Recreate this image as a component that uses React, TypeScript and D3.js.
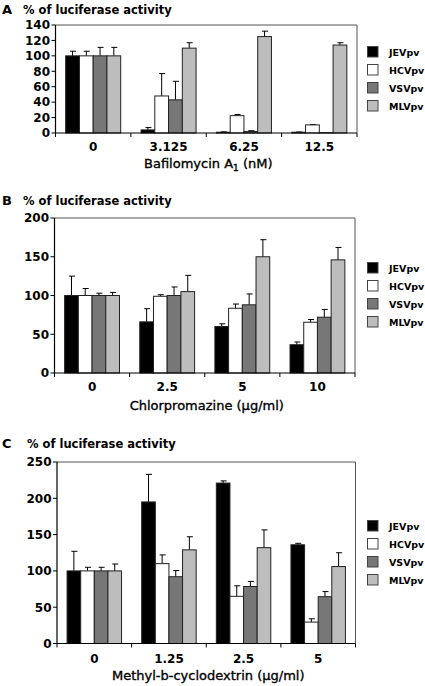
import React from "react";
import * as d3 from "d3";

// ---------- data ----------
const seriesNames = ["JEVpv", "HCVpv", "VSVpv", "MLVpv"];
const seriesColors = ["#000000", "#ffffff", "#777777", "#bdbdbd"];

// Panel A – Bafilomycin A1
const catsA = ["0", "3.125", "6.25", "12.5"];
const jevA = [100, 4, 1, 1];
const hcvA = [100, 48, 22.5, 10.5];
const vsvA = [100, 43, 2, 0.4];
const mlvA = [100, 110, 125, 114];
const jevErrA = [6, 3, 0.5, 0.3];
const hcvErrA = [6, 29, 1.5, 0.5];
const vsvErrA = [11, 24, 1, 0];
const mlvErrA = [11, 7, 7, 3];
const ticksA = [0, 20, 40, 60, 80, 100, 120, 140];

// Panel B – Chlorpromazine
const catsB = ["0", "2.5", "5", "10"];
const jevB = [100, 66, 60, 36.5];
const hcvB = [100, 99, 83.5, 65.5];
const vsvB = [100, 100, 88, 72];
const mlvB = [100, 105, 150, 146];
const jevErrB = [25, 17, 3.5, 3.5];
const hcvErrB = [9, 2, 5.5, 3.5];
const vsvErrB = [3, 11, 14, 10];
const mlvErrB = [4, 21, 22, 16];
const ticksB = [0, 50, 100, 150, 200];

// Panel C – Methyl-b-cyclodextrin
const catsC = ["0", "1.25", "2.5", "5"];
const jevC = [100, 195, 221, 136];
const hcvC = [100, 110, 65, 29.5];
const vsvC = [100, 92, 78.5, 64.5];
const mlvC = [100, 129, 132, 106];
const jevErrC = [27, 38, 3, 2];
const hcvErrC = [5, 12, 14.5, 4.5];
const vsvErrC = [5, 8.5, 7, 7];
const mlvErrC = [9.5, 18, 24.5, 19];
const ticksC = [0, 50, 100, 150, 200, 250];

const yTitle = "% of luciferase activity";

// ---------- layout ----------
const FONT = "'DejaVu Sans', Arial, sans-serif";

type Panel = {
  letter: string;
  cats: string[];
  values: number[][];
  errors: number[][];
  ticks: number[];
  xTitle: React.ReactNode;
  left: number;
  right: number;
  top: number;
  bottom: number;
  letterY: number;
  titleX: number;
  legendTop: number;
  tickLabelY: number;
  xTitleY: number;
};

const panels: Panel[] = [
  {
    letter: "A",
    cats: catsA,
    values: [jevA, hcvA, vsvA, mlvA],
    errors: [jevErrA, hcvErrA, vsvErrA, mlvErrA],
    ticks: ticksA,
    xTitle: (
      <>
        Bafilomycin A
        <tspan fontSize={9} dy={3}>1</tspan>
        <tspan dy={-3}> (nM)</tspan>
      </>
    ),
    left: 55.5,
    right: 357,
    top: 25,
    bottom: 133,
    letterY: 14,
    titleX: 23,
    legendTop: 46.5,
    tickLabelY: 151,
    xTitleY: 168,
  },
  {
    letter: "B",
    cats: catsB,
    values: [jevB, hcvB, vsvB, mlvB],
    errors: [jevErrB, hcvErrB, vsvErrB, mlvErrB],
    ticks: ticksB,
    xTitle: <>Chlorpromazine (μg/ml)</>,
    left: 54.5,
    right: 355,
    top: 218,
    bottom: 373,
    letterY: 205,
    titleX: 23,
    legendTop: 262.5,
    tickLabelY: 391,
    xTitleY: 410,
  },
  {
    letter: "C",
    cats: catsC,
    values: [jevC, hcvC, vsvC, mlvC],
    errors: [jevErrC, hcvErrC, vsvErrC, mlvErrC],
    ticks: ticksC,
    xTitle: <>Methyl-b-cyclodextrin (μg/ml)</>,
    left: 57,
    right: 355.5,
    top: 462,
    bottom: 643.5,
    letterY: 447.5,
    titleX: 27,
    legendTop: 520.5,
    tickLabelY: 663,
    xTitleY: 680,
  },
];

function PanelChart({ p }: { p: Panel }) {
  const yMax = p.ticks[p.ticks.length - 1];
  const y = d3.scaleLinear().domain([0, yMax]).range([p.bottom, p.top]);
  const x0 = d3.scaleBand<string>().domain(p.cats).range([p.left, p.right]).padding(0);
  const bw = x0.bandwidth();
  const inset = bw * 0.135;
  const x1 = d3
    .scaleBand<string>()
    .domain(seriesNames)
    .range([inset, bw - inset])
    .padding(0);
  const barW = x1.bandwidth();
  const capHalf = 2.5;
  const boundaries = [...p.cats.map((c) => x0(c) as number), p.right];

  return (
    <g>
      {/* letter + title */}
      <text x={2} y={p.letterY} fontFamily={FONT} fontWeight="bold" fontSize={13}>
        {p.letter}
      </text>
      <text x={p.titleX} y={p.letterY} fontFamily={FONT} fontWeight="bold" fontSize={11.5}>
        {yTitle}
      </text>

      {/* frame top/right */}
      <path
        d={`M${p.left},${p.top}H${p.right}V${p.bottom}`}
        fill="none"
        stroke="#555"
        strokeWidth={1}
      />

      {/* bars */}
      {p.cats.map((c, ci) =>
        seriesNames.map((s, si) => {
          const v = p.values[si][ci];
          const e = p.errors[si][ci];
          const bx = (x0(c) as number) + (x1(s) as number);
          const cx = bx + barW / 2;
          return (
            <g key={`${c}-${s}`}>
              {e > 0 && (
                <g stroke="#000" strokeWidth={1}>
                  <line x1={cx} x2={cx} y1={y(v)} y2={y(v + e)} />
                  <line x1={cx - capHalf} x2={cx + capHalf + 1} y1={y(v + e)} y2={y(v + e)} />
                </g>
              )}
              <rect
                x={bx}
                y={y(v)}
                width={barW}
                height={Math.max(0, y(0) - y(v))}
                fill={seriesColors[si]}
                stroke="#222"
                strokeWidth={1}
              />
            </g>
          );
        })
      )}

      {/* y axis */}
      <line x1={p.left} x2={p.left} y1={p.top} y2={p.bottom} stroke="#000" strokeWidth={1.2} />
      {p.ticks.map((t) => (
        <g key={t}>
          <line x1={p.left - 4} x2={p.left} y1={y(t)} y2={y(t)} stroke="#000" strokeWidth={1} />
          <text
            x={p.left - 5.5}
            y={y(t) + 4.3}
            textAnchor="end"
            fontFamily={FONT}
            fontWeight="bold"
            fontSize={12}
          >
            {t}
          </text>
        </g>
      ))}

      {/* x axis */}
      <line x1={p.left} x2={p.right} y1={p.bottom} y2={p.bottom} stroke="#000" strokeWidth={1.2} />
      {boundaries.map((bx, i) => (
        <line key={i} x1={bx} x2={bx} y1={p.bottom} y2={p.bottom + 4} stroke="#000" strokeWidth={1} />
      ))}
      {p.cats.map((c) => (
        <text
          key={c}
          x={(x0(c) as number) + bw / 2}
          y={p.tickLabelY}
          textAnchor="middle"
          fontFamily={FONT}
          fontWeight="bold"
          fontSize={12}
        >
          {c}
        </text>
      ))}
      <text
        x={(p.left + p.right) / 2 + 2}
        y={p.xTitleY}
        textAnchor="middle"
        fontFamily={FONT}
        fontSize={13}
        stroke="#000"
        strokeWidth={0.35}
      >
        {p.xTitle}
      </text>

      {/* legend */}
      {seriesNames.map((s, si) => (
        <g key={s}>
          <rect
            x={367.5}
            y={p.legendTop + si * 18}
            width={10.5}
            height={10.5}
            fill={seriesColors[si]}
            stroke="#444"
            strokeWidth={1}
          />
          <text
            x={389}
            y={p.legendTop + si * 18 + 9}
            fontFamily={FONT}
            fontWeight="bold"
            fontSize={9.5}
          >
            {s}
          </text>
        </g>
      ))}
    </g>
  );
}

export default function App() {
  return (
    <svg
      width={425}
      height={686}
      viewBox="0 0 425 686"
      style={{ position: "absolute", left: 0, top: 0, background: "#fff" }}
    >
      <rect x={0} y={0} width={425} height={686} fill="#fff" />
      {panels.map((p) => (
        <PanelChart key={p.letter} p={p} />
      ))}
    </svg>
  );
}
